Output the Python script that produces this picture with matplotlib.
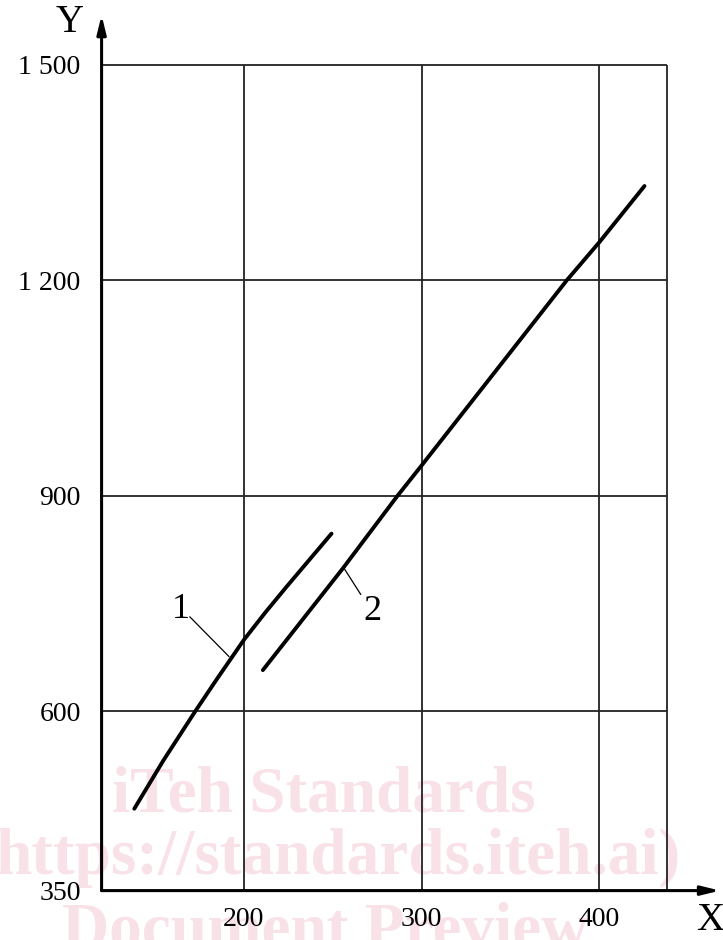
import matplotlib
matplotlib.use('Agg')
import matplotlib.pyplot as plt

# curve 1 (short, slightly bowed) and curve 2 (long, nearly straight)
curve1_x = [138.4, 154.7, 172.5, 184.7, 200.0, 212.0, 224.0, 249.3]
curve1_y = [464, 531, 599, 644, 699, 737, 773, 847]

curve2_x = [210.7, 255.8, 286.2, 300.0, 381.7, 400.0, 425.3]
curve2_y = [657, 799, 899, 942, 1200, 1253, 1331]

x_ticks = [200, 300, 400]
x_tick_labels = ['200', '300', '400']
y_ticks = [350, 600, 900, 1200, 1500]
y_tick_labels = ['350', '600', '900', '1 200', '1 500']

x_min, x_frame, x_tip = 120, 438, 467.8
y_min, y_frame, y_tip = 350, 1500, 1569

serif = 'Liberation Serif'

fig = plt.figure(figsize=(7.23, 9.40), dpi=100)
ax = fig.add_axes([0.1405, 0.05255, 0.8554, 0.9314])
ax.patch.set_alpha(0)
ax.set_xlim(x_min, x_tip)
ax.set_ylim(y_min, y_tip)
for side in ax.spines.values():
    side.set_visible(False)

# watermark, drawn before the axes
wm = dict(family=serif, fontweight='bold', color='#f9e1e8', fontsize=47,
          ha='center', va='center', zorder=-1)
fig.text(324 / 723, 1 - 795 / 940, 'iTeh Standards', **wm)
fig.text(338 / 723, 1 - 858 / 940, 'https://standards.iteh.ai)', **wm)
fig.text(325 / 723, 1 - 932 / 940, 'Document Preview', **wm)

# grid box
grid_kw = dict(color='#222222', lw=1.3, zorder=1)
ax.vlines([200, 300, 400, x_frame], y_min, y_frame, **grid_kw)
ax.hlines([600, 900, 1200, 1500], x_min, x_frame, **grid_kw)

# axes with arrow heads
arrow = dict(arrowstyle='-|>,head_length=1.1,head_width=0.27', lw=2.2,
             color='black', shrinkA=0, shrinkB=0)
ax.annotate('', xy=(x_tip, y_min), xytext=(x_min, y_min),
            arrowprops=arrow, annotation_clip=False, zorder=3)
ax.annotate('', xy=(x_min, y_tip), xytext=(x_min, y_min),
            arrowprops=arrow, annotation_clip=False, zorder=3)

ax.plot(curve1_x, curve1_y, color='black', lw=2.8,
        solid_capstyle='round', solid_joinstyle='round', zorder=4)
ax.plot(curve2_x, curve2_y, color='black', lw=2.8,
        solid_capstyle='round', solid_joinstyle='round', zorder=4)

# leaders and curve numbers
ax.plot([169.7, 191.6], [731, 676], color='black', lw=0.9, zorder=4)
ax.plot([256.3, 265.7], [799, 762.5], color='black', lw=0.9, zorder=4)
ax.text(164.6, 741, '1', family=serif, fontsize=26, ha='center', va='center')
ax.text(272.5, 738, '2', family=serif, fontsize=26, ha='center', va='center')

ax.set_xticks(x_ticks)
ax.set_xticklabels(x_tick_labels, family=serif, fontsize=20)
ax.set_yticks(y_ticks)
ax.set_yticklabels(y_tick_labels, family=serif, fontsize=20)
ax.tick_params(axis='x', length=0, pad=12)
ax.tick_params(axis='y', length=0, pad=15)

fig.text(70 / 723, 1 - 23 / 940, 'Y', family=serif, fontsize=28,
         ha='center', va='center')
fig.text(710 / 723, 1 - 920 / 940, 'X', family=serif, fontsize=28,
         ha='center', va='center')

fig.savefig('out.png', dpi=100)
